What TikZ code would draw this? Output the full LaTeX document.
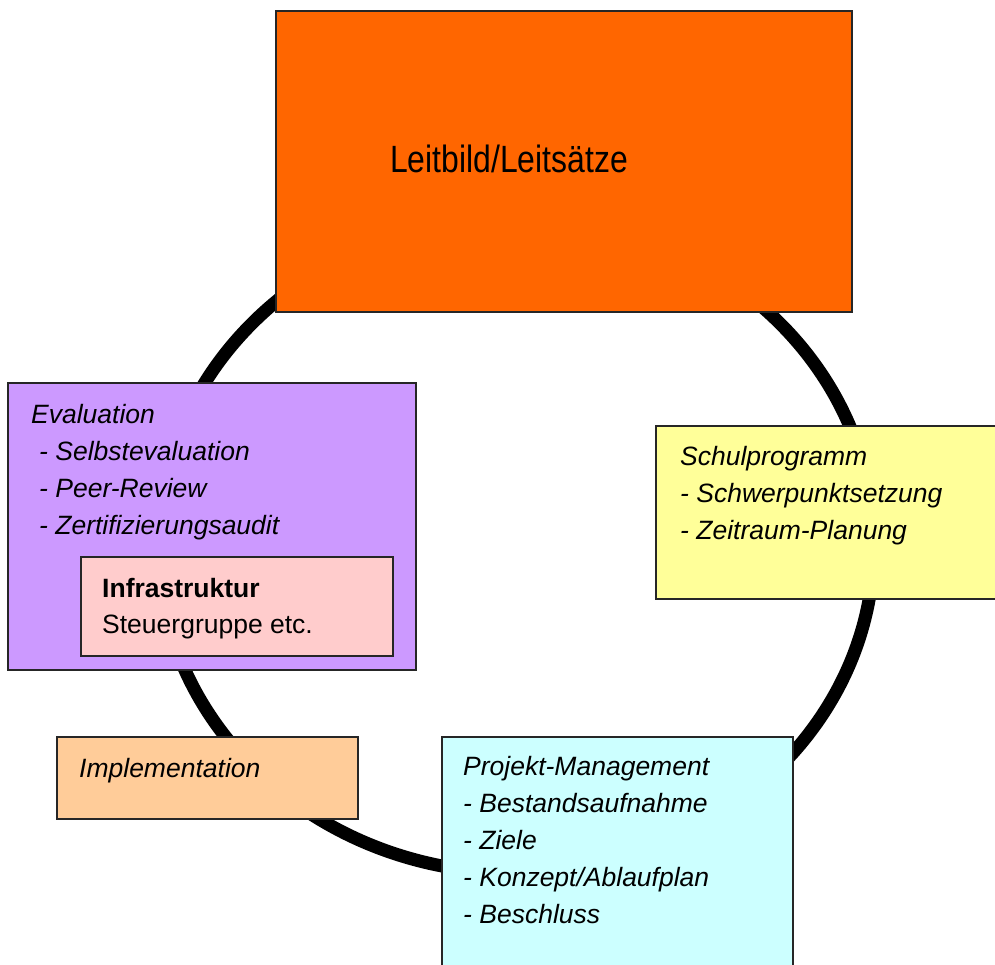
\documentclass[tikz,border=0pt]{standalone}
\usepackage{fontspec}
\setmainfont{Liberation Sans}
\usetikzlibrary{positioning}

\definecolor{leitorange}{HTML}{FF6600}
\definecolor{evalpurple}{HTML}{CC99FF}
\definecolor{infrapink}{HTML}{FFCCCC}
\definecolor{schulyellow}{HTML}{FFFF99}
\definecolor{implpeach}{HTML}{FFCC99}
\definecolor{projcyan}{HTML}{CCFFFF}

\begin{document}
\begin{tikzpicture}[
    x=1pt, y=-1pt,
    font=\fontsize{26.5}{37}\selectfont\itshape,
    box/.style={
        rectangle, draw=black!85, line width=1.5pt,
        anchor=north west, inner sep=0pt, outer sep=0pt
    },
    boxtext/.style={
        anchor=north west, inner sep=0pt, align=left
    },
    ring/.style={line width=13pt}
]
\clip (0,0) rectangle (995,964);

% ---------------- Ring ----------------
\draw[ring] (516,545) ellipse [x radius=358pt, y radius=328pt];

% ---------------- Leitbild ----------------
\node[box, fill=leitorange, minimum width=576pt, minimum height=301pt] (leitbox) at (276,11) {};
\node[font=\fontsize{38}{38}\selectfont, inner sep=0pt] (leittext) at ([xshift=-55pt, yshift=3pt]leitbox.center) {\scalebox{0.84}[1]{Leitbild/Leitsätze}};

% ---------------- Evaluation ----------------
\node[box, fill=evalpurple, minimum width=408pt, minimum height=287pt] (evalbox) at (8,383) {};
\node[boxtext, below right=21pt and 23pt of evalbox.north west] (evaltext) {Evaluation\\\hspace*{8pt}- Selbstevaluation\\\hspace*{8pt}- Peer-Review\\\hspace*{8pt}- Zertifizierungsaudit};

\node[box, fill=infrapink, minimum width=312pt, minimum height=99pt] (infrabox) at (81,557) {};
\node[boxtext, font=\fontsize{26.5}{36}\selectfont, below right=21pt and 21pt of infrabox.north west] (infratext) {\textbf{Infrastruktur}\\Steuergruppe etc.};

% ---------------- Schulprogramm ----------------
\node[box, fill=schulyellow, minimum width=350pt, minimum height=173pt] (schulbox) at (656,426) {};
\node[boxtext, below right=20pt and 24pt of schulbox.north west] (schultext) {Schulprogramm\\- Schwerpunktsetzung\\- Zeitraum-Planung};

% ---------------- Implementation ----------------
\node[box, fill=implpeach, minimum width=301pt, minimum height=82pt] (implbox) at (57,737) {};
\node[boxtext, below right=21pt and 22pt of implbox.north west] (impltext) {Implementation};

% ---------------- Projekt-Management ----------------
\node[box, fill=projcyan, minimum width=351pt, minimum height=240pt] (projbox) at (442,737) {};
\node[boxtext, below right=19pt and 21pt of projbox.north west] (projtext) {Projekt-Management\\- Bestandsaufnahme\\- Ziele\\- Konzept/Ablaufplan\\- Beschluss};

\end{tikzpicture}
\end{document}
